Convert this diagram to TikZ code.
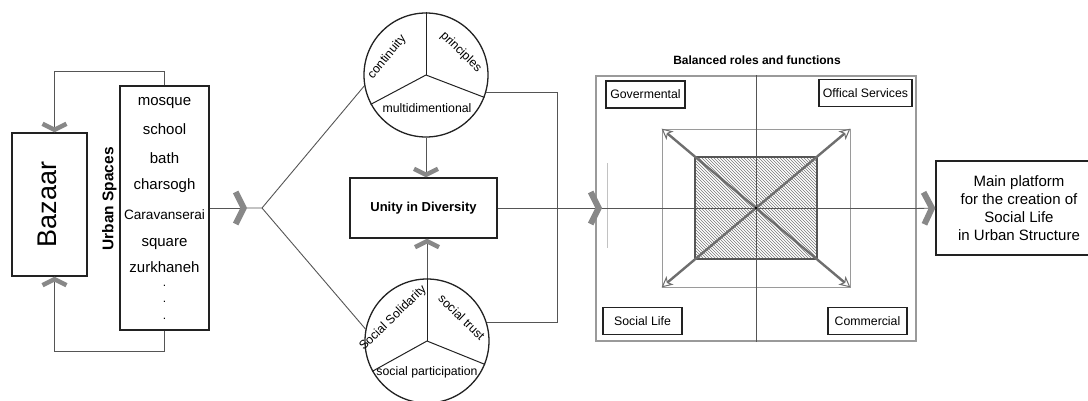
\documentclass[tikz,border=0pt]{standalone}
\usepackage{fontspec}
\setmainfont{Liberation Sans}
\usetikzlibrary{arrows.meta,patterns,calc}
\definecolor{connc}{HTML}{555555}
\definecolor{chevc}{HTML}{888888}
\definecolor{frmc}{HTML}{9A9A9A}
\definecolor{boxc}{HTML}{222222}
\begin{document}
\begin{tikzpicture}[x=1pt,y=-1pt,
  box/.style={draw=boxc, line width=1.3pt, inner sep=0pt},
  lblbox/.style={draw=boxc, line width=1.8pt, inner sep=0pt, font=\fontsize{12.3}{14}\selectfont, minimum height=27pt},
  conn/.style={draw=connc, line width=0.9pt},
  tx/.style={inner sep=0pt, text height=1.5ex, text depth=.25ex},
  item/.style={tx, font=\fontsize{15}{18}\selectfont},
  ctext/.style={tx, font=\fontsize{12.3}{14}\selectfont},
  rnd/.style={circle, draw=boxc, line width=1.3pt, inner sep=0pt, minimum size=124pt},
  divider/.style={draw=boxc, line width=1pt},
  chevbig/.style={-{Straight Barb[sharp,length=8pt,width=32pt,line width=6pt,color=chevc]}},
  chevsm/.style={-{Straight Barb[sharp,length=6pt,width=24pt,line width=4.5pt,color=chevc]}},
  frame/.style={draw=frmc, line width=1.1pt},
  axis/.style={draw=connc, line width=0.7pt},
  diag/.style={draw=connc!85, line width=2.4pt, -{Stealth[open,length=11pt,width=11pt,inset=3pt,line width=1pt]}}
]
\useasboundingbox (0,0) rectangle (1088,401);

% Bazaar
\node[box, minimum width=75pt, minimum height=143pt] (baz) at (49.5,204.5) {};
\node[tx, rotate=90, font=\fontsize{27}{30}\selectfont] (baztxt) at (53,204.5) {Bazaar};

% Urban spaces
\node[box, minimum width=89pt, minimum height=244pt] (us) at (164.5,208) {};
\node[tx, rotate=90, font=\bfseries\fontsize{15.5}{18}\selectfont] (ustitle) at (110,199) {Urban Spaces};
\node[item] (i1) at (164.5,102) {mosque};
\node[item] (i2) at (164.5,131) {school};
\node[item] (i3) at (164.5,160) {bath};
\node[item] (i4) at (164.5,186) {charsogh};
\node[tx, font=\fontsize{13.6}{16}\selectfont] (i5) at (164.5,216) {Caravanserai};
\node[item] (i6) at (164.5,243) {square};
\node[item] (i7) at (164.5,269) {zurkhaneh};
\node[inner sep=0pt, font=\fontsize{12}{14}\selectfont] (d1) at (164.5,286) {.};
\node[inner sep=0pt, font=\fontsize{12}{14}\selectfont] (d2) at (164.5,302) {.};
\node[inner sep=0pt, font=\fontsize{12}{14}\selectfont] (d3) at (164.5,319) {.};

% loops between urban spaces and bazaar
\draw[conn, chevsm] (us.north) -- ++(0,-14) -| ([xshift=5pt]baz.north);
\draw[conn, chevsm] (us.south) -- ++(0,21) -| ([xshift=5pt]baz.south);

% circles
\node[rnd] (tc) at (426,75) {};
\draw[divider] (tc.center) -- (tc.north);
\draw[divider] (tc.center) -- (tc.208);
\draw[divider] (tc.center) -- (tc.339);
\node[ctext, rotate=50] (t1) at (387,57) {continuity};
\node[ctext, rotate=-44] (t2) at (461,52) {principles};
\node[ctext] (t3) at (427,109) {multidimentional};

\node[rnd] (bc) at (427,341) {};
\draw[divider] (bc.center) -- (bc.north);
\draw[divider] (bc.center) -- (bc.209);
\draw[divider] (bc.center) -- (bc.338);
\node[ctext, rotate=44] (b1) at (393,318) {Social Solidarity};
\node[ctext, rotate=-44] (b2) at (461,318) {social trust};
\node[ctext] (b3) at (427,372) {social participation};

% unity
\node[box, minimum width=147pt, minimum height=60pt, font=\bfseries\fontsize{13}{15}\selectfont] (ud) at (423.5,208) {Unity in Diversity};

% branch
\coordinate (br) at (262,208);
\coordinate (c1) at (247,208);
\draw[conn, chevbig] (us.east) -- (c1);
\draw[conn] (c1) -- (br) -- (tc.190);
\draw[conn] (br) -- (bc.169);
\draw[conn, chevsm] (tc.south) -- (tc.south |- ud.north);
\draw[conn, chevsm] (bc.north) -- (bc.north |- ud.south);
\coordinate (bx) at (557,0);
\draw[conn] (tc.344) -- (tc.344 -| bx) -- (bc.17 -| bx) -- (bc.17);

% balanced roles frame
\node[font=\bfseries\fontsize{12}{14}\selectfont, tx] (title) at (757,61) {Balanced roles and functions};
\node[frame, minimum width=320pt, minimum height=265pt, inner sep=0pt] (fr) at (756,208.5) {};
\draw[draw=frmc!60, line width=0.6pt] (607,163) -- (607,248);
\node[draw=frmc, line width=0.8pt, minimum width=188pt, minimum height=158pt, inner sep=0pt] (ir) at (756,208) {};
\node[draw=connc, line width=1.2pt, pattern=north west lines, pattern color=connc!80, minimum width=122pt, minimum height=102pt, inner sep=0pt] (hr) at (756,208) {};
\draw[axis] (fr.west) -- (fr.east);
\draw[axis] (fr.north) -- (fr.south);
\draw[diag] (hr.center) -- (ir.north west);
\draw[diag] (hr.center) -- (ir.north east);
\draw[diag] (hr.center) -- (ir.south west);
\draw[diag] (hr.center) -- (ir.south east);
\fill[black] (hr.center) circle (1.3pt);

\node[lblbox, minimum width=79pt] (gov) at (645.5,94.5) {Govermental};
\node[lblbox, minimum width=93pt] (off) at (865.5,93) {Offical Services};
\node[lblbox, minimum width=79pt] (sl) at (642.5,321) {Social Life};
\node[lblbox, minimum width=79pt] (com) at (867.5,321) {Commercial};

\coordinate (c2) at (602,208);
\draw[conn, chevbig] (ud.east) -- (c2);

% main platform
\node[box, minimum width=166pt, minimum height=94pt, align=center, font=\fontsize{15}{18}\selectfont] (mp) at (1019,208) {Main platform\\ for the creation of\\Social Life\\in Urban Structure};
\draw[conn, chevbig] (fr.east) -- (mp.west);
\end{tikzpicture}
\end{document}
